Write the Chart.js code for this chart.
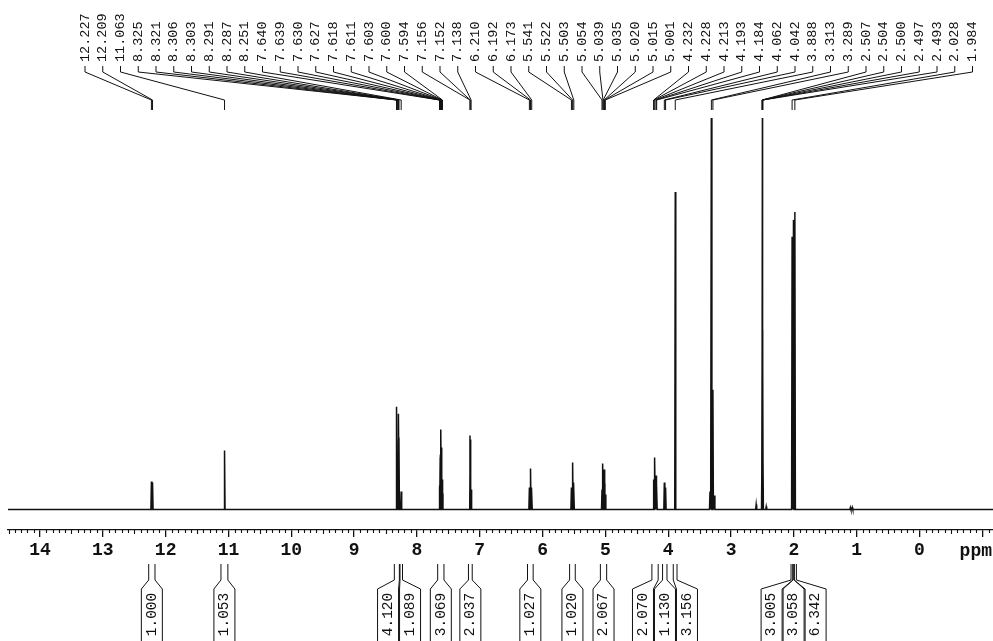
<!DOCTYPE html>
<html>
<head>
<meta charset="utf-8">
<script src="https://cdn.jsdelivr.net/npm/chart.js@4/dist/chart.umd.min.js"></script>
<style>
  html, body { margin: 0; padding: 0; background: #fff; }
  #wrap { width: 993px; height: 641px; }
</style>
</head>
<body>
<div id="wrap"><canvas id="nmr" width="993" height="641"></canvas></div>
<script>
// Labelled peak positions (ppm) and their line heights
const shiftLabels = [12.227, 12.209, 11.063, 8.325, 8.321, 8.306, 8.303, 8.291, 8.287, 8.251,
  7.640, 7.639, 7.630, 7.627, 7.618, 7.611, 7.603, 7.600, 7.594, 7.156, 7.152, 7.138,
  6.210, 6.192, 6.173, 5.541, 5.522, 5.503, 5.054, 5.039, 5.035, 5.020, 5.015, 5.001,
  4.232, 4.228, 4.213, 4.193, 4.184, 4.062, 4.042, 3.888, 3.313, 3.289,
  2.507, 2.504, 2.500, 2.497, 2.493, 2.028, 1.984];
const shiftHeights = [28, 27, 59, 103, 70, 45, 42, 96, 72, 18,
  22, 24, 52, 55, 80, 62, 32, 30, 16, 74, 70, 20,
  22, 41, 22, 22, 47, 27, 20, 46, 36, 40, 26, 15,
  30, 28, 52, 34, 26, 27, 22, 318, 430, 120,
  60, 180, 430, 180, 60, 273, 298];

// Unlabelled lines (solvent shoulders, small impurities)
const extraShifts = [3.335, 3.265, 2.006, 2.600, 2.440, 1.100, 1.070];
const extraHeights = [18, 14, 290, 5, 3, 2, 2];

// Integral regions (ppm, high -> low) and integral values
const integralFrom = [12.27, 11.12, 8.36, 8.27, 7.67, 7.18, 6.24, 5.57, 5.08, 4.26, 4.09, 3.92, 2.045, 2.015, 1.995];
const integralTo   = [12.17, 11.01, 8.28, 8.23, 7.57, 7.12, 6.15, 5.48, 4.98, 4.16, 4.02, 3.86, 2.015, 1.995, 1.960];
const integralValues = ['1.000', '1.053', '4.120', '1.089', '3.069', '2.037', '1.027', '1.020', '2.067', '2.070', '1.130', '3.156', '3.005', '3.058', '6.342'];

// Axis ticks
const majorTicks = [14, 13, 12, 11, 10, 9, 8, 7, 6, 5, 4, 3, 2, 1, 0, -1];
const majorTickLabels = ['14', '13', '12', '11', '10', '9', '8', '7', '6', '5', '4', '3', '2', '1', '0', ''];
const axisUnit = 'ppm';

// Spectrum extent
const ppmMax = 14.51, ppmMin = -1.17;

// Build the stick spectrum trace from the peak lists
const allPeaks = shiftLabels.map((p, i) => [p, shiftHeights[i]])
  .concat(extraShifts.map((p, i) => [p, extraHeights[i]]))
  .sort((a, b) => b[0] - a[0]);
const trace = [{ x: ppmMax, y: 0 }];
const hw = 0.008;
allPeaks.forEach(([p, h]) => {
  trace.push({ x: p + hw, y: 0 }, { x: p, y: h }, { x: p - hw, y: 0 });
});
trace.push({ x: ppmMin, y: 0 });

const INK = '#111';

const annotations = {
  id: 'nmrAnnotations',
  afterDraw(chart) {
    const ctx = chart.ctx;
    const xs = chart.scales.x;
    const area = chart.chartArea;
    ctx.save();
    ctx.strokeStyle = INK;
    ctx.fillStyle = INK;
    ctx.lineWidth = 1.1;

    // minor ticks every 0.1 ppm
    ctx.beginPath();
    for (let k = Math.floor(ppmMax * 10); k >= Math.ceil(ppmMin * 10); k--) {
      if (k % 10 === 0) continue;
      const x = Math.round(xs.getPixelForValue(k / 10)) + 0.5;
      ctx.moveTo(x, area.bottom);
      ctx.lineTo(x, area.bottom + (k % 5 === 0 ? 4 : 3));
    }
    ctx.stroke();

    // unit label at the right end of the axis
    ctx.font = 'bold 18px "Liberation Mono", monospace';
    ctx.textAlign = 'right';
    ctx.textBaseline = 'middle';
    ctx.fillText(axisUnit, 992, area.bottom + 21);

    // peak labels with leader lines
    const n = shiftLabels.length;
    const firstX = 85, lastX = 972.5;
    const step = (lastX - firstX) / (n - 1);
    ctx.font = '13.5px "Liberation Mono", monospace';
    ctx.lineWidth = 1;
    shiftLabels.forEach((p, i) => {
      const lx = firstX + i * step;
      ctx.save();
      ctx.translate(lx, 62);
      ctx.rotate(-Math.PI / 2);
      ctx.textAlign = 'left';
      ctx.textBaseline = 'middle';
      ctx.fillText(p.toFixed(3), 0, 0);
      ctx.restore();
      const px = xs.getPixelForValue(p);
      ctx.beginPath();
      ctx.moveTo(lx, 66);
      ctx.lineTo(lx, 72);
      ctx.lineTo(px, 100);
      ctx.lineTo(px, 110);
      ctx.stroke();
    });

    // integral boxes under the axis
    const boxW = 22;
    const items = integralValues.map((v, i) => {
      const x1 = xs.getPixelForValue(integralFrom[i]);
      const x2 = xs.getPixelForValue(integralTo[i]);
      return { v, x1: Math.min(x1, x2), x2: Math.max(x1, x2), c0: (x1 + x2) / 2 };
    }).sort((a, b) => a.c0 - b.c0);
    // group overlapping boxes and centre each group on its regions
    const groups = [];
    items.forEach(it => {
      const g = groups[groups.length - 1];
      if (g && it.c0 - g[g.length - 1].c0 < boxW) g.push(it); else groups.push([it]);
    });
    groups.forEach(g => {
      const mean = g.reduce((s, it) => s + it.c0, 0) / g.length;
      g.forEach((it, j) => { it.c = mean + (j - (g.length - 1) / 2) * boxW; });
    });
    ctx.font = '14.5px "Liberation Mono", monospace';
    items.forEach(it => {
      const bl = it.c - boxW / 2 + 0.5, br = it.c + boxW / 2 - 0.5;
      ctx.beginPath();
      ctx.moveTo(it.x1, 564);
      ctx.lineTo(it.x1, 580);
      ctx.lineTo(bl, 589);
      ctx.lineTo(bl, 641);
      ctx.moveTo(it.x2, 564);
      ctx.lineTo(it.x2, 580);
      ctx.lineTo(br, 589);
      ctx.lineTo(br, 641);
      ctx.stroke();
      ctx.save();
      ctx.translate(it.c, 614.5);
      ctx.rotate(-Math.PI / 2);
      ctx.textAlign = 'center';
      ctx.textBaseline = 'middle';
      ctx.fillText(it.v, 0, 0);
      ctx.restore();
    });
    ctx.restore();
  }
};

new Chart(document.getElementById('nmr'), {
  type: 'line',
  data: {
    datasets: [{
      data: trace,
      borderColor: INK,
      borderWidth: 1.5,
      pointRadius: 0,
      tension: 0,
      fill: false
    }]
  },
  options: {
    responsive: false,
    animation: false,
    devicePixelRatio: 1,
    layout: { padding: { left: 8, right: 0, top: 118, bottom: 0 } },
    plugins: { legend: { display: false }, tooltip: { enabled: false } },
    scales: {
      x: {
        type: 'linear',
        reverse: true,
        min: ppmMin,
        max: ppmMax,
        position: 'bottom',
        border: { display: true, color: INK, width: 1.3 },
        grid: { drawOnChartArea: false, drawTicks: true, tickLength: 7, color: INK, lineWidth: 1.3 },
        ticks: {
          autoSkip: false,
          maxRotation: 0,
          color: INK,
          padding: 3,
          font: { family: '"Liberation Mono", monospace', weight: 'bold', size: 18 },
          callback: (v, i) => majorTickLabels[i]
        },
        afterBuildTicks: (scale) => { scale.ticks = majorTicks.map(v => ({ value: v })); },
        afterFit: (scale) => { scale.height = 111; }
      },
      y: { display: false, min: -20.5, max: 392 }
    }
  },
  plugins: [annotations]
});
</script>
</body>
</html>
